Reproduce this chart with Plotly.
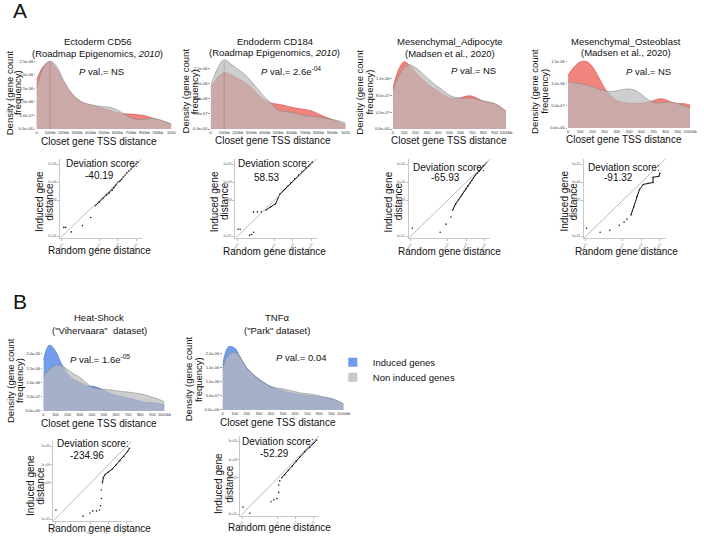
import plotly.graph_objects as go

W, H = 704, 538
FONT = "Liberation Sans, Arial, Helvetica, sans-serif"

# ---------------- data ----------------
dist_kb = [0, 50, 100, 150, 200, 250, 300, 350, 400, 450, 500, 550, 600, 650, 700, 750, 800, 850, 900, 950, 1000]

# densities in units of 1e-6
ecto_cd56_induced = [1.80, 2.30, 2.48, 2.20, 1.75, 1.35, 1.10, 0.95, 0.88, 0.82, 0.75, 0.68, 0.60, 0.56, 0.55, 0.53, 0.50, 0.42, 0.35, 0.27, 0.18]
ecto_cd56_noninduced = [1.50, 2.25, 2.50, 2.30, 1.80, 1.40, 1.12, 0.97, 0.90, 0.85, 0.82, 0.80, 0.70, 0.55, 0.42, 0.35, 0.36, 0.40, 0.36, 0.28, 0.18]
endo_cd184_induced = [1.37, 1.70, 1.87, 1.80, 1.68, 1.55, 1.38, 1.15, 0.95, 0.86, 0.82, 0.78, 0.72, 0.68, 0.65, 0.60, 0.50, 0.40, 0.32, 0.23, 0.14]
endo_cd184_noninduced = [1.42, 2.00, 2.30, 2.15, 1.98, 1.82, 1.58, 1.32, 1.05, 0.85, 0.62, 0.58, 0.55, 0.50, 0.45, 0.42, 0.40, 0.36, 0.32, 0.27, 0.20]
adipo_induced = [0.96, 1.40, 1.59, 1.50, 1.35, 1.20, 1.08, 0.98, 0.90, 0.80, 0.74, 0.72, 0.74, 0.78, 0.78, 0.72, 0.66, 0.63, 0.60, 0.52, 0.42]
adipo_noninduced = [0.92, 1.25, 1.45, 1.52, 1.45, 1.35, 1.22, 1.10, 1.00, 0.90, 0.80, 0.75, 0.73, 0.73, 0.73, 0.70, 0.66, 0.64, 0.60, 0.52, 0.42]
osteo_induced = [1.19, 1.38, 1.49, 1.50, 1.38, 1.15, 0.90, 0.72, 0.62, 0.58, 0.56, 0.56, 0.56, 0.58, 0.62, 0.66, 0.64, 0.58, 0.55, 0.55, 0.52]
osteo_noninduced = [1.04, 1.02, 1.00, 0.97, 0.93, 0.88, 0.84, 0.82, 0.84, 0.87, 0.88, 0.85, 0.76, 0.65, 0.58, 0.57, 0.58, 0.58, 0.55, 0.50, 0.45]
heatshock_induced = [1.79, 2.31, 2.10, 1.65, 1.30, 1.10, 1.00, 0.90, 0.87, 0.82, 0.72, 0.62, 0.55, 0.50, 0.45, 0.40, 0.34, 0.30, 0.29, 0.27, 0.23]
heatshock_noninduced = [1.21, 1.45, 1.60, 1.58, 1.45, 1.30, 1.18, 1.00, 0.83, 0.78, 0.76, 0.74, 0.71, 0.68, 0.66, 0.63, 0.60, 0.55, 0.48, 0.42, 0.31]
tnf_induced = [1.60, 2.25, 2.20, 1.85, 1.50, 1.28, 1.10, 0.95, 0.83, 0.75, 0.68, 0.62, 0.58, 0.55, 0.52, 0.50, 0.47, 0.44, 0.40, 0.32, 0.21]
tnf_noninduced = [1.48, 1.95, 2.05, 1.85, 1.50, 1.28, 1.08, 0.95, 0.82, 0.78, 0.75, 0.70, 0.65, 0.60, 0.58, 0.55, 0.50, 0.45, 0.40, 0.32, 0.21]

xtick_kb = [0, 100, 200, 300, 400, 500, 600, 700, 800, 900, 1000]
xticktext_roadmap = ["0", "100kb", "200kb", "300kb", "400kb", "500kb", "600kb", "700kb", "800kb", "900kb", "1000"]
xticktext_other = ["0", "100", "200", "300", "400", "500", "600", "700", "800", "900", "1000kb"]

titles = ["Ectoderm CD56", "Endoderm CD184", "Mesenchymal_Adipocyte", "Mesenchymal_Osteoblast", "Heat-Shock", "TNFα"]
subtitles = ["(Roadmap Epigenomics, <i>2010</i>)", "(Roadmap Epigenomics, <i>2010</i>)",
             "(Madsen et al., 2020)", "(Madsen et al., 2020)", "(\"Vihervaara\"  dataset)", "(\"Park\" dataset)"]
pvals = ["<i>P</i> val.= NS", "<i>P</i> val.= 2.6e<sup>-04</sup>", "<i>P</i> val.= NS", "<i>P</i> val.= NS",
         "<i>P</i> val.= 1.6e<sup>-05</sup>", "<i>P</i> val.= 0.04"]
deviation_scores = ["-40.19", "58.53", "-65.93", "-91.32", "-234.96", "-52.29"]
legend_labels = ["Induced genes", "Non induced genes"]
density_ytitle_lines = ["Density (gene count", "frequency)"]
qq_ytitle_lines = ["Induced gene", "distance"]
reference_line_kb = 100

# QQ plots (log10 distances)
qq_ecto_random = [1.10, 1.20, 1.50, 2.10, 2.55, 2.80, 3.00, 3.20, 3.40, 3.55, 3.70, 3.80, 3.90, 4.00, 4.10, 4.20, 4.30, 4.40, 4.50, 4.60, 4.70, 4.80, 4.90, 5.00, 5.10]
qq_ecto_induced = [1.50, 1.50, 1.25, 1.60, 2.05, 2.70, 2.90, 3.10, 3.30, 3.40, 3.55, 3.70, 3.85, 4.00, 4.05, 4.15, 4.30, 4.40, 4.52, 4.62, 4.72, 4.83, 4.93, 5.03, 5.12]
qq_endo_random = [1.05, 1.16, 1.67, 1.78, 1.88, 1.88, 2.09, 2.30, 2.55, 2.81, 3.07, 3.30, 3.50, 3.70, 3.90, 4.10, 4.30, 4.50, 4.70, 4.90, 5.05]
qq_endo_induced = [1.40, 1.40, 1.06, 1.11, 1.23, 2.36, 2.36, 2.36, 2.47, 2.64, 2.81, 3.35, 3.55, 3.78, 3.98, 4.20, 4.40, 4.60, 4.80, 4.98, 5.12]
qq_adipo_random = [1.10, 2.60, 2.92, 3.18, 3.28, 3.44, 3.59, 3.70, 3.80, 3.90, 4.00, 4.10, 4.20, 4.30, 4.40, 4.50, 4.60, 4.70, 4.80, 4.90, 5.00, 5.10]
qq_adipo_induced = [1.45, 1.23, 1.68, 2.07, 2.47, 2.81, 3.03, 3.20, 3.35, 3.50, 3.65, 3.80, 3.95, 4.10, 4.25, 4.40, 4.50, 4.62, 4.75, 4.88, 4.98, 5.10]
qq_osteo_random = [1.05, 1.78, 2.30, 2.81, 3.07, 3.23, 3.44, 3.59, 3.75, 3.90, 4.10, 4.37, 4.63, 4.63, 4.94, 5.00]
qq_osteo_induced = [1.45, 1.23, 1.34, 1.62, 1.79, 1.96, 2.19, 2.64, 3.20, 3.60, 3.88, 3.94, 3.99, 4.28, 4.33, 4.50]
qq_hs_random = [1.05, 2.57, 2.95, 3.11, 3.32, 3.49, 3.54, 3.59, 3.59, 3.65, 3.70, 3.81, 3.97, 4.19, 4.41, 4.62, 4.84, 5.05, 5.16]
qq_hs_induced = [1.51, 1.17, 1.34, 1.46, 1.46, 1.51, 1.74, 2.14, 2.60, 3.00, 3.29, 3.46, 3.57, 3.74, 3.97, 4.20, 4.43, 4.71, 4.89]
qq_tnf_random = [1.05, 1.43, 2.62, 2.78, 2.95, 3.05, 3.05, 3.11, 3.22, 3.38, 3.59, 3.81, 4.03, 4.24, 4.51, 4.78, 5.00, 5.16]
qq_tnf_induced = [1.40, 1.06, 1.69, 1.80, 1.86, 2.20, 2.60, 2.83, 3.00, 3.17, 3.40, 3.63, 3.91, 4.14, 4.43, 4.66, 4.89, 5.06]
qq_dense_start = [5, 8, 4, 6, 9, 8]
qq_tickvals = [1, 3, 4, 5]
qq_ticktext = ["1e+01", "1e+03", "1e+04", "1e+05"]

# ---------------- styling ----------------
RED_FILL = "rgba(235,85,75,0.72)"
RED_LINE = "rgba(200,60,55,0.9)"
BLUE_FILL = "rgba(90,140,230,0.85)"
BLUE_LINE = "rgba(60,100,190,0.9)"
GREY_FILL = "rgba(185,185,185,0.7)"
GREY_LINE = "rgba(130,130,130,0.9)"


def dx(x0, x1):
    return [x0 / W, x1 / W]


def dy(y0, y1):
    return [1 - y1 / H, 1 - y0 / H]


def sci(v):
    return f"{v * 1e-6:.1e}"


density_panels = [
    dict(ind=ecto_cd56_induced, non=ecto_cd56_noninduced, box=(33, 170, 59, 128), yr=2.52,
         yt=[0, 0.5, 1, 1.5, 2, 2.5], xt=xticktext_roadmap, fill=RED_FILL, line=RED_LINE, ref=True),
    dict(ind=endo_cd184_induced, non=endo_cd184_noninduced, box=(210, 347, 58, 128), yr=2.3,
         yt=[0, 0.5, 1, 1.5, 2], xt=xticktext_roadmap, fill=RED_FILL, line=RED_LINE, ref=True),
    dict(ind=adipo_induced, non=adipo_noninduced, box=(395, 510, 59, 128), yr=1.62,
         yt=[0, 0.4, 0.8, 1.2], xt=xticktext_other, fill=RED_FILL, line=RED_LINE, ref=False),
    dict(ind=osteo_induced, non=osteo_noninduced, box=(573, 697, 59, 127), yr=1.52,
         yt=[0, 0.5, 1, 1.5], xt=xticktext_other, fill=RED_FILL, line=RED_LINE, ref=False),
    dict(ind=heatshock_induced, non=heatshock_noninduced, box=(40, 163, 345, 412), yr=2.33,
         yt=[0, 0.5, 1, 1.5, 2], xt=xticktext_other, fill=BLUE_FILL, line=BLUE_LINE, ref=False),
    dict(ind=tnf_induced, non=tnf_noninduced, box=(222, 345, 345, 411), yr=2.33,
         yt=[0, 0.5, 1, 1.5, 2], xt=xticktext_other, fill=BLUE_FILL, line=BLUE_LINE, ref=False),
]

qq_panels = [
    dict(r=qq_ecto_random, i=qq_ecto_induced, box=(57, 140, 158, 238)),
    dict(r=qq_endo_random, i=qq_endo_induced, box=(235, 318, 158, 238)),
    dict(r=qq_adipo_random, i=qq_adipo_induced, box=(411, 494, 158, 238)),
    dict(r=qq_osteo_random, i=qq_osteo_induced, box=(589, 672, 158, 238)),
    dict(r=qq_hs_random, i=qq_hs_induced, box=(50, 130, 442, 523)),
    dict(r=qq_tnf_random, i=qq_tnf_induced, box=(240, 320, 437, 518)),
]

fig = go.Figure()
layout = {}
shapes = []
QQ_RANGE = [0.9, 5.3]


def axnames(n):
    s = "" if n == 1 else str(n)
    return "xaxis" + s, "yaxis" + s, "x" + s, "y" + s


n = 0
for p in density_panels:
    n += 1
    xa, ya, xr, yrf = axnames(n)
    x0, x1, y0, y1 = p["box"]
    fig.add_trace(go.Scatter(x=dist_kb, y=p["ind"], mode="lines", line=dict(color=p["line"], width=0.6, shape="spline"),
                             fill="tozeroy", fillcolor=p["fill"], xaxis=xr, yaxis=yrf, showlegend=False, hoverinfo="skip"))
    fig.add_trace(go.Scatter(x=dist_kb, y=p["non"], mode="lines", line=dict(color=GREY_LINE, width=0.6, shape="spline"),
                             fill="tozeroy", fillcolor=GREY_FILL, xaxis=xr, yaxis=yrf, showlegend=False, hoverinfo="skip"))
    layout[xa] = dict(domain=dx(x0, x1), range=[0, 1000], anchor=yrf, tickvals=xtick_kb, ticktext=p["xt"],
                      tickfont=dict(size=4, color="#333"), ticks="", showgrid=False, zeroline=False,
                      showline=False, tickangle=0)
    layout[ya] = dict(domain=dy(y0, y1), range=[0, p["yr"]], anchor=xr, tickvals=p["yt"],
                      ticktext=[sci(v) for v in p["yt"]], tickfont=dict(size=4, color="#333"), ticks="outside",
                      ticklen=1.5, tickcolor="#999", showgrid=False, zeroline=False, showline=False)
    if p["ref"]:
        shapes.append(dict(type="line", xref=xr, yref=yrf + " domain", x0=reference_line_kb, x1=reference_line_kb,
                           y0=0, y1=0.97, line=dict(color="rgba(110,80,80,0.55)", width=0.5)))

for k, q in enumerate(qq_panels):
    n += 1
    xa, ya, xr, yrf = axnames(n)
    x0, x1, y0, y1 = q["box"]
    s = qq_dense_start[k]
    shapes.append(dict(type="line", xref=xr, yref=yrf, x0=QQ_RANGE[0], y0=QQ_RANGE[0], x1=QQ_RANGE[1], y1=QQ_RANGE[1],
                       line=dict(color="#aaaaaa", width=0.8)))
    fig.add_trace(go.Scatter(x=q["r"][s:], y=q["i"][s:], mode="lines", line=dict(color="#111", width=1.0),
                             xaxis=xr, yaxis=yrf, showlegend=False, hoverinfo="skip"))
    fig.add_trace(go.Scatter(x=q["r"], y=q["i"], mode="markers", marker=dict(color="#222", size=1.6),
                             xaxis=xr, yaxis=yrf, showlegend=False, hoverinfo="skip"))
    common = dict(range=QQ_RANGE, tickvals=qq_tickvals, ticktext=qq_ticktext, tickfont=dict(size=3, color="#555"),
                  ticks="outside", ticklen=2, tickcolor="#bbb", showgrid=False, zeroline=False, showline=True,
                  linecolor="#c8c8c8", linewidth=1)
    layout[xa] = dict(domain=dx(x0, x1), anchor=yrf, tickangle=-60, **common)
    layout[ya] = dict(domain=dy(y0, y1), anchor=xr, **common)

# legend entries (one legend per entry so each can be placed exactly)
legend_colors = ["rgb(110,155,235)", "rgb(200,200,200)"]
legend_refs = ["legend", "legend2"]
legend_y = [363, 378]
for lab, col, lref in zip(legend_labels, legend_colors, legend_refs):
    fig.add_trace(go.Scatter(x=[None], y=[None], mode="markers", name=lab, legend=lref,
                             marker=dict(symbol="square", size=9, color=col), xaxis="x5", yaxis="y5"))

annotations = []


def ann(text, px, py, size=9.5, angle=0, xanchor="center", color="#111"):
    annotations.append(dict(text=text, x=px / W, y=1 - py / H, xref="paper", yref="paper", showarrow=False,
                            xanchor=xanchor, yanchor="middle", textangle=angle,
                            font=dict(family=FONT, size=size, color=color)))


ann("A", 16, 9, size=21)
ann("B", 16, 302, size=21)

title_pos = [(95, 40, 52), (275, 40, 51), (453, 40, 52), (632, 40, 51), (97, 318, 331), (277, 318, 331)]
for t, st, (cx, ty, sy) in zip(titles, subtitles, title_pos):
    ann(t, cx, ty)
    ann(st, cx, sy)

pval_pos = [(99, 70), (292, 70), (477, 69), (655, 70), (98, 360), (302, 358)]
for t, (px, py) in zip(pvals, pval_pos):
    ann(t, px, py)

# rotated two-line titles: (x of line 1, x of line 2, y centre)
ytitle_pos = [(5, 14, 91), (184, 193, 90), (361, 371, 91), (539, 549, 90), (6, 15, 381), (187, 197, 380)]
for x1_, x2_, py in ytitle_pos:
    ann(density_ytitle_lines[0], x1_, py, angle=-90)
    ann(density_ytitle_lines[1], x2_, py, angle=-90)

xtitle_pos = [(97, 141), (273, 140), (452, 140), (630, 139), (97, 425), (278, 424)]
for px, py in xtitle_pos:
    ann("Closet gene TSS distance", px, py, size=10)

dev_pos = [((100, 163), (97, 175)), ((274, 163), (267, 177)), ((452, 167), (448, 177)),
           ((630, 167), (624, 177)), ((90, 445), (84, 457)), ((278, 443), (275, 455))]
for v, ((ax_, ay_), (bx_, by_)) in zip(deviation_scores, dev_pos):
    ann("Deviation score:", ax_, ay_, size=10)
    ann(v, bx_, by_, size=10)

qy_pos = [(36, 46, 201), (214, 224, 201), (391, 401, 201), (569, 579, 201), (27, 37, 487), (218, 229, 485)]
for x1_, x2_, py in qy_pos:
    ann(qq_ytitle_lines[0], x1_, py, size=10, angle=-90)
    ann(qq_ytitle_lines[1], x2_, py, size=10, angle=-90)

qx_pos = [(97, 250), (275, 251), (453, 251), (632, 251), (97, 530), (280, 529)]
for px, py in qx_pos:
    ann("Random gene distance", px, py, size=10)

leg_common = dict(xanchor="left", yanchor="middle", bgcolor="rgba(0,0,0,0)",
                  font=dict(family=FONT, size=9.5, color="#111"), itemwidth=30)

fig.update_layout(
    width=W, height=H, margin=dict(l=0, r=0, t=0, b=0), paper_bgcolor="white", plot_bgcolor="rgba(0,0,0,0)",
    font=dict(family=FONT, size=9, color="#111"),
    showlegend=True,
    legend=dict(x=334 / W, y=1 - legend_y[0] / H, **leg_common),
    legend2=dict(x=334 / W, y=1 - legend_y[1] / H, **leg_common),
    annotations=annotations, shapes=shapes,
    **layout,
)

fig.write_html("out.html")
